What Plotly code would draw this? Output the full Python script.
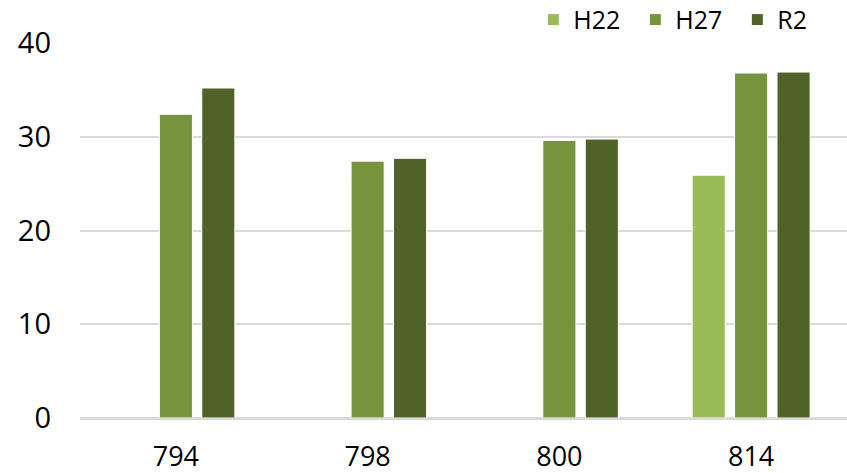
import plotly.graph_objects as go

# Category labels and series values
categories = ["794", "798", "800", "814"]
h22 = [None, None, None, 25.9]
h27 = [32.4, 27.4, 29.6, 36.8]
r2 = [35.2, 27.7, 29.75, 36.9]
y_ticks = [0, 10, 20, 30, 40]

series = [
    ("H22", h22, "#9BBB59"),
    ("H27", h27, "#77933C"),
    ("R2", r2, "#4F6228"),
]

fig = go.Figure()
for name, values, color in series:
    fig.add_trace(go.Bar(
        name=name,
        x=categories,
        y=values,
        marker=dict(color=color, line=dict(color="white", width=1)),
    ))

font_family = "Open Sans, Liberation Sans, sans-serif"

fig.update_layout(
    width=847,
    height=473,
    margin=dict(l=80, r=0, t=43, b=55, autoexpand=False),
    paper_bgcolor="white",
    plot_bgcolor="white",
    barmode="group",
    bargap=0.336,
    bargroupgap=0.22,
    font=dict(family=font_family, color="black"),
    legend=dict(
        orientation="h",
        x=0.99,
        xanchor="right",
        yref="container",
        y=0.958,
        yanchor="middle",
        font=dict(size=25, family=font_family),
        itemwidth=30,
        entrywidth=57,
        entrywidthmode="pixels",
        traceorder="normal",
        bgcolor="rgba(0,0,0,0)",
    ),
    showlegend=True,
)

fig.update_xaxes(
    type="category",
    showgrid=False,
    showline=False,
    zeroline=False,
    ticks="",
    tickfont=dict(size=27),
    ticklabelstandoff=20,
)

fig.update_yaxes(
    range=[0, 40],
    tickvals=y_ticks,
    showgrid=True,
    gridcolor="#D9D9D9",
    gridwidth=2,
    zeroline=True,
    zerolinecolor="#D9D9D9",
    zerolinewidth=3,
    showline=False,
    ticks="",
    tickfont=dict(size=29),
    ticklabelstandoff=28,
)

fig.write_html("out.html")
